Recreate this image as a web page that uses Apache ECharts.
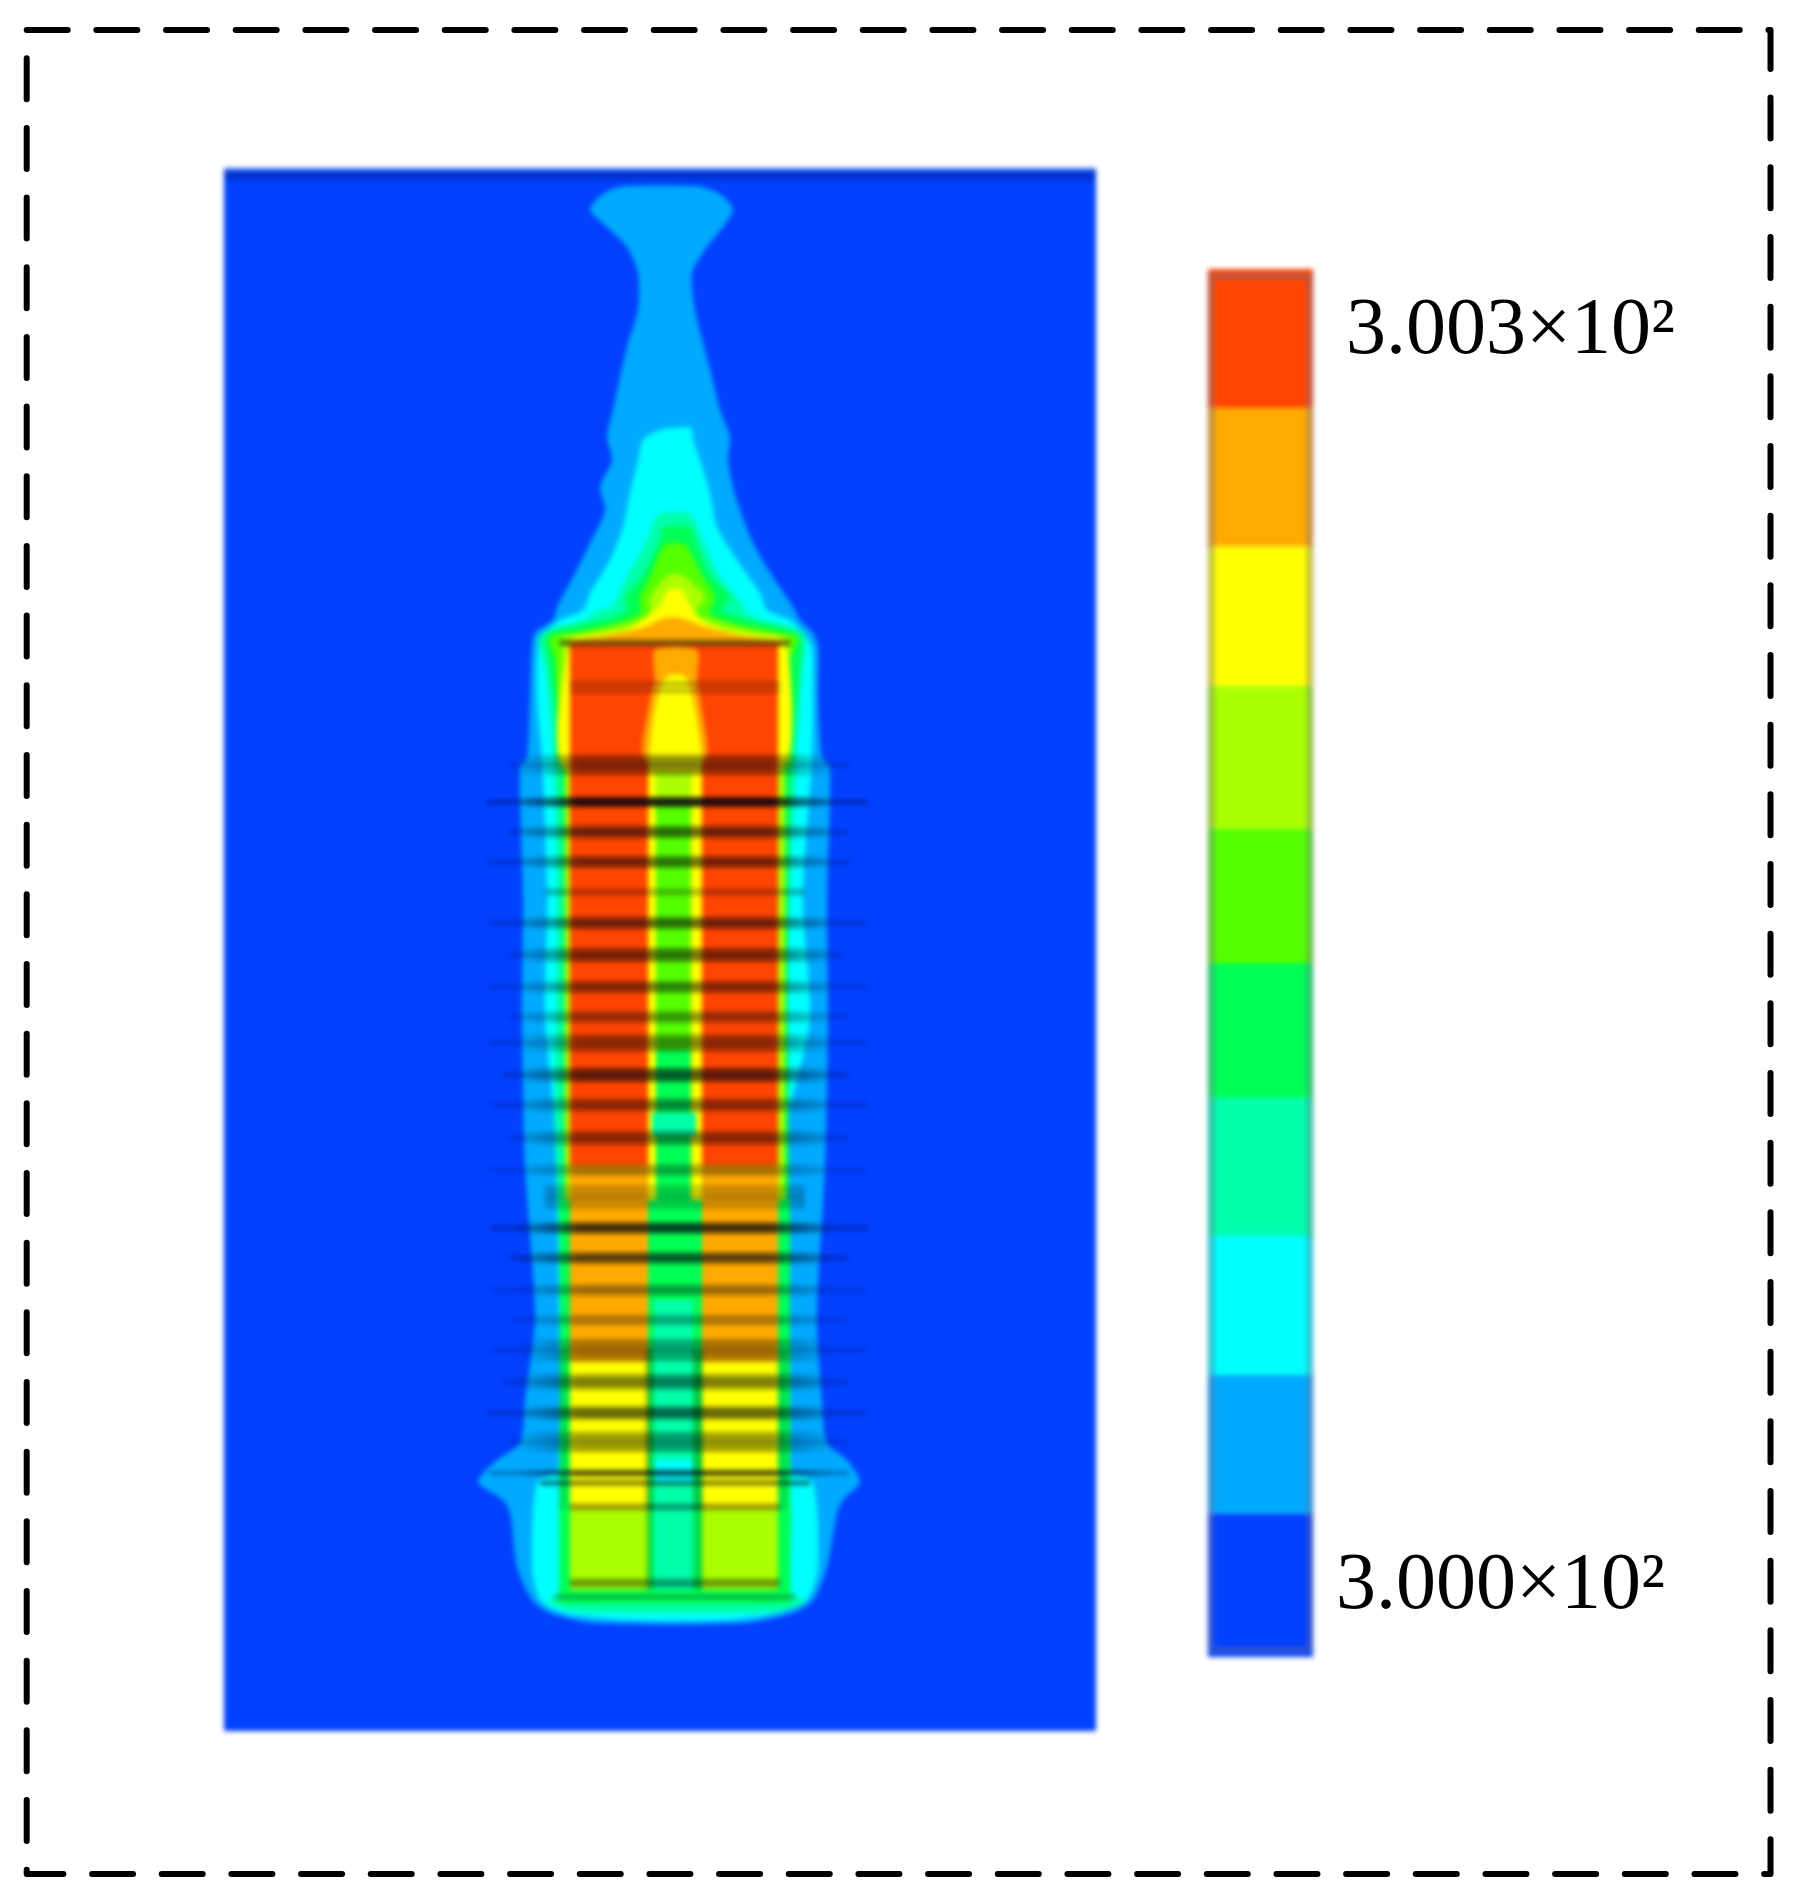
<!DOCTYPE html>
<html>
<head>
<meta charset="utf-8">
<style>
  html, body { margin: 0; background: #fff; }
  #field, #overlay { position: absolute; left: 0; top: 0; width: 1794px; height: 1899px; }
  #field { filter: blur(2.4px); } /* source picture is a soft, upscaled bitmap */
</style>
<script src="https://cdn.jsdelivr.net/npm/echarts@6/dist/echarts.min.js"></script>
</head>
<body>
<div id="field"></div>
<div id="overlay"></div>
<script>
// temperature levels, low to high
const levelColors = ["#0040ff", "#00aaff", "#00ffff", "#00ffaa", "#00ff55", "#55ff00", "#aaff00", "#ffff00", "#ffaa00", "#ff4500"];
const legendValues = [300.0, 300.031, 300.061, 300.091, 300.121, 300.15, 300.179, 300.21, 300.24, 300.27, 300.3];
const legendLabels = ["3.003×10²", "3.000×10²"];

// contours: [y, xLeft, xRight]
const contour1 = [[186, 625, 695], [190, 610, 712], [198, 598, 725], [210, 590, 733], [227, 607, 723], [247, 627, 707], [273, 638, 692], [310, 638, 695], [343, 628, 703], [377, 620, 712], [410, 613, 720], [437, 607, 730], [460, 612, 728], [487, 600, 733], [510, 605, 740], [543, 590, 753], [577, 573, 773], [607, 557, 793], [620, 553, 800], [633, 535, 813], [647, 532, 818], [700, 530, 818], [757, 527, 822], [767, 520, 830], [900, 523, 827], [1020, 522, 828], [1167, 525, 825], [1317, 535, 817], [1400, 525, 822], [1443, 520, 827], [1460, 497, 847], [1482, 478, 860], [1500, 503, 843], [1513, 510, 837], [1567, 517, 827], [1600, 532, 813], [1613, 550, 793], [1623, 593, 743]];
const contour2 = [[427, 685, 690], [430, 660, 692], [440, 643, 693], [460, 638, 700], [493, 630, 710], [527, 623, 717], [560, 610, 737], [593, 590, 760], [610, 583, 767], [620, 560, 790], [633, 545, 803], [647, 538, 812], [700, 537, 813], [757, 542, 812], [900, 547, 803], [1020, 545, 810], [1130, 555, 787], [1470, 558, 790], [1482, 537, 813], [1567, 532, 818], [1600, 540, 807], [1613, 563, 777], [1620, 627, 727]];
const contour3 = [[513, 662, 688], [520, 655, 695], [540, 647, 703], [577, 627, 720], [607, 612, 745], [610, 600, 743], [620, 583, 763], [630, 547, 800], [640, 538, 807], [667, 545, 803], [757, 553, 797], [900, 557, 790], [1130, 555, 787], [1300, 560, 790], [1480, 560, 788], [1515, 558, 792], [1590, 558, 792], [1602, 548, 805], [1612, 580, 775]];
const contour4 = [[527, 665, 690], [540, 660, 695], [577, 642, 712], [597, 625, 730], [610, 627, 723], [620, 603, 750], [630, 557, 790], [638, 545, 800], [667, 550, 800], [757, 560, 792], [900, 563, 788], [1300, 563, 790], [1590, 560, 790], [1600, 565, 785]];
const contour5 = [[545, 665, 685], [577, 650, 703], [597, 640, 715], [613, 640, 710], [623, 617, 733], [632, 577, 777], [637, 550, 798], [660, 555, 790], [700, 558, 788], [770, 565, 785]];
const contour6 = [[575, 668, 682], [597, 650, 705], [613, 650, 695], [620, 640, 710], [630, 603, 747], [637, 563, 787], [645, 562, 790], [770, 567, 780]];
const contour7 = [[590, 668, 682], [605, 660, 690], [620, 642, 702], [630, 628, 722], [636, 590, 755], [641, 570, 785], [770, 568, 780]];
const contour8 = [[618, 665, 680], [628, 642, 708], [636, 605, 742], [642, 570, 782], [646, 570, 780]];
const coreOrange = [[650, 655, 697], [680, 655, 697], [700, 650, 700], [760, 645, 705]];
const coreYellow = [[676, 667, 685], [695, 658, 692], [720, 653, 697], [757, 649, 702], [770, 650, 700]];

// rectangular blocks of the body: [yTop, yBottom, xLeft, xRight, level]
const background = [168, 1731, 224, 1096, 0];
const blocks = [
  [770, 1200, 565, 570, 6], [770, 1200, 778, 785, 6],
  [1200, 1590, 560, 570, 4], [1200, 1590, 778, 790, 4],
  [645, 1165, 570, 648, 9], [645, 1165, 702, 778, 9],
  [645, 770, 648, 702, 9],
  [1165, 1380, 570, 648, 8], [1165, 1380, 702, 778, 8],
  [1362, 1382, 570, 648, 7], [1362, 1382, 702, 778, 7],
  [1380, 1510, 570, 648, 7], [1380, 1510, 702, 778, 7],
  [1510, 1590, 570, 648, 6], [1510, 1590, 702, 778, 6],
  [770, 1200, 648, 702, 7],
  [1200, 1590, 648, 702, 4],
  [770, 805, 656, 691, 6],
  [805, 1050, 656, 691, 5],
  [1050, 1113, 656, 691, 4],
  [1113, 1135, 652, 696, 3],
  [1135, 1300, 656, 691, 4],
  [1300, 1460, 654, 693, 3],
  [1460, 1482, 654, 693, 2],
  [1482, 1592, 654, 693, 3],
  [1590, 1604, 560, 790, 4]
];

// dark bands across the body: [y, height, alpha, whiskerLeft, whiskerRight]
const stripes = [
  [643, 7, 0.4, 560, 790], [684, 5, 0.2, 570, 780], [691, 4, 0.2, 570, 780],
  [765, 20, 0.42, 509, 848], [802, 10, 0.8, 487, 867], [832, 12, 0.48, 509, 848], [862, 12, 0.45, 487, 850],
  [892, 8, 0.2, 545, 805], [923, 12, 0.48, 490, 867], [955, 14, 0.45, 509, 842], [987, 12, 0.4, 490, 867],
  [1017, 12, 0.32, 509, 848], [1043, 17, 0.38, 490, 867], [1075, 14, 0.55, 503, 848], [1105, 13, 0.38, 490, 867],
  [1138, 14, 0.38, 509, 848], [1170, 12, 0.27, 487, 867], [1197, 24, 0.2, 545, 805], [1228, 11, 0.65, 490, 867],
  [1258, 11, 0.55, 509, 848], [1290, 11, 0.3, 490, 867], [1320, 11, 0.25, 509, 848], [1350, 22, 0.32, 490, 867],
  [1382, 15, 0.42, 503, 848], [1413, 13, 0.5, 487, 867], [1442, 20, 0.36, 509, 848], [1473, 6, 0.6, 490, 848],
  [1483, 5, 0.4, 540, 810], [1507, 7, 0.3, 570, 780], [1583, 9, 0.3, 570, 780], [1597, 5, 0.2, 555, 795]
];

// thin shading that follows the picture's edges and column seams: [yTop, yBottom, xLeft, xRight, colour]
const shades = [
  [168, 171, 224, 1096, "rgba(255,255,255,0.25)"],
  [171, 180, 224, 1096, "rgba(0,0,0,0.18)"],
  [1350, 1510, 645, 653, "rgba(0,0,0,0.2)"],
  [1350, 1510, 693, 703, "rgba(0,0,0,0.2)"],
  [1510, 1590, 645, 653, "rgba(0,0,0,0.12)"],
  [1510, 1590, 693, 703, "rgba(0,0,0,0.12)"],
  [1350, 1510, 558, 568, "rgba(0,0,0,0.1)"],
  [1350, 1510, 778, 788, "rgba(0,0,0,0.1)"]
];

const contours = [
  [contour1, 1], [contour2, 2], [contour3, 3], [contour4, 4], [contour5, 5], [contour6, 6], [contour7, 7], [contour8, 8]
];
const coreShapes = [[coreOrange, 8], [coreYellow, 7]];

function polygonItem(rows, level, api) {
  const left = rows.map((r) => api.coord([r[1], r[0]]));
  const right = rows.slice().reverse().map((r) => api.coord([r[2], r[0]]));
  return { type: "polygon", shape: { points: left.concat(right), smooth: 0.25 }, style: { fill: levelColors[level] } };
}

function rectItem(y0, y1, x0, x1, api, style) {
  const a = api.coord([x0, y0]);
  const b = api.coord([x1, y1]);
  return { type: "rect", shape: { x: a[0], y: a[1], width: b[0] - a[0], height: b[1] - a[1] }, style };
}

// stripes fade out sideways across the light-blue flanks
function stripeFill(alpha) {
  const c = "rgba(0,0,0," + alpha + ")";
  return {
    type: "linear", x: 0, y: 0, x2: 1, y2: 0,
    colorStops: [
      { offset: 0, color: "rgba(0,0,0,0)" },
      { offset: 0.15, color: "rgba(0,0,0," + alpha * 0.7 + ")" },
      { offset: 0.2, color: c },
      { offset: 0.8, color: c },
      { offset: 0.85, color: "rgba(0,0,0," + alpha * 0.7 + ")" },
      { offset: 1, color: "rgba(0,0,0,0)" }
    ]
  };
}

const field = echarts.init(document.getElementById("field"));
field.setOption({
  animation: false,
  grid: [
    { left: 224, top: 168, width: 872, height: 1563 },
    { left: 1208, top: 269, width: 105, height: 1388 }
  ],
  xAxis: [
    { gridIndex: 0, type: "value", min: 224, max: 1096, show: false },
    { gridIndex: 1, type: "value", min: 0, max: 1, show: false }
  ],
  yAxis: [
    { gridIndex: 0, type: "value", min: 168, max: 1731, inverse: true, show: false },
    { gridIndex: 1, type: "value", min: 300, max: 300.3, show: false }
  ],
  series: [
    {
      type: "custom", xAxisIndex: 0, yAxisIndex: 0, z: 1, data: [background], silent: true,
      renderItem: (params, api) => rectItem(background[0], background[1], background[2], background[3], api, { fill: levelColors[0] })
    },
    {
      type: "custom", xAxisIndex: 0, yAxisIndex: 0, z: 2, data: contours.map((c) => [c[1]]), silent: true,
      renderItem: (params, api) => polygonItem(contours[params.dataIndex][0], contours[params.dataIndex][1], api)
    },
    {
      type: "custom", xAxisIndex: 0, yAxisIndex: 0, z: 3, data: blocks, silent: true,
      renderItem: (params, api) => {
        const b = blocks[params.dataIndex];
        return rectItem(b[0], b[1], b[2], b[3], api, { fill: levelColors[b[4]] });
      }
    },
    {
      type: "custom", xAxisIndex: 0, yAxisIndex: 0, z: 4, data: coreShapes.map((c) => [c[1]]), silent: true,
      renderItem: (params, api) => polygonItem(coreShapes[params.dataIndex][0], coreShapes[params.dataIndex][1], api)
    },
    {
      type: "custom", xAxisIndex: 0, yAxisIndex: 0, z: 5, data: stripes, silent: true,
      renderItem: (params, api) => {
        const s = stripes[params.dataIndex];
        const wide = s[4] - s[3] > 300;
        const x0 = wide ? 515 : s[3];
        const x1 = wide ? 835 : s[4];
        return {
          type: "group",
          children: [
            rectItem(s[0] - s[1] / 2, s[0] + s[1] / 2, x0, x1, api, { fill: wide ? stripeFill(s[2]) : "rgba(0,0,0," + s[2] + ")" }),
            rectItem(s[0] - 2, s[0] + 2, s[3], s[4], api, { fill: "rgba(0,0,60," + s[2] * 0.55 + ")" })
          ]
        };
      }
    },
    {
      type: "custom", xAxisIndex: 0, yAxisIndex: 0, z: 6, data: shades, silent: true,
      renderItem: (params, api) => {
        const s = shades[params.dataIndex];
        return rectItem(s[0], s[1], s[2], s[3], api, { fill: s[4] });
      }
    },
    {
      type: "custom", xAxisIndex: 1, yAxisIndex: 1, z: 7, data: levelColors.map((c, i) => [i]), silent: true,
      renderItem: (params, api) => {
        const i = params.dataIndex;
        return rectItem(legendValues[i + 1], legendValues[i], 0, 1, api, { fill: levelColors[i] });
      }
    },
    {
      type: "custom", xAxisIndex: 1, yAxisIndex: 1, z: 8, data: [[0]], silent: true,
      renderItem: (params, api) => rectItem(300.2985, 300.0015, 0.03, 0.97, api, { fill: "none", stroke: "rgba(110,110,150,0.4)", lineWidth: 7 })
    }
  ]
});

const overlay = echarts.init(document.getElementById("overlay"));
overlay.setOption({
  animation: false,
  graphic: [
    {
      type: "polyline",
      shape: { points: [[26.7, 30], [1770.5, 30], [1770.5, 1874], [26.7, 1874], [26.7, 30]] },
      style: { fill: "none", stroke: "#000", lineWidth: 6, lineDash: [41, 28.67], lineCap: "round", lineJoin: "round" }
    },
    {
      type: "text", x: 1346, y: 372,
      style: { text: legendLabels[0], fill: "#000", font: '80px "Liberation Serif"', textAlign: "left", textVerticalAlign: "bottom" }
    },
    {
      type: "text", x: 1336, y: 1627,
      style: { text: legendLabels[1], fill: "#000", font: '80px "Liberation Serif"', textAlign: "left", textVerticalAlign: "bottom" }
    }
  ]
});
</script>
</body>
</html>
